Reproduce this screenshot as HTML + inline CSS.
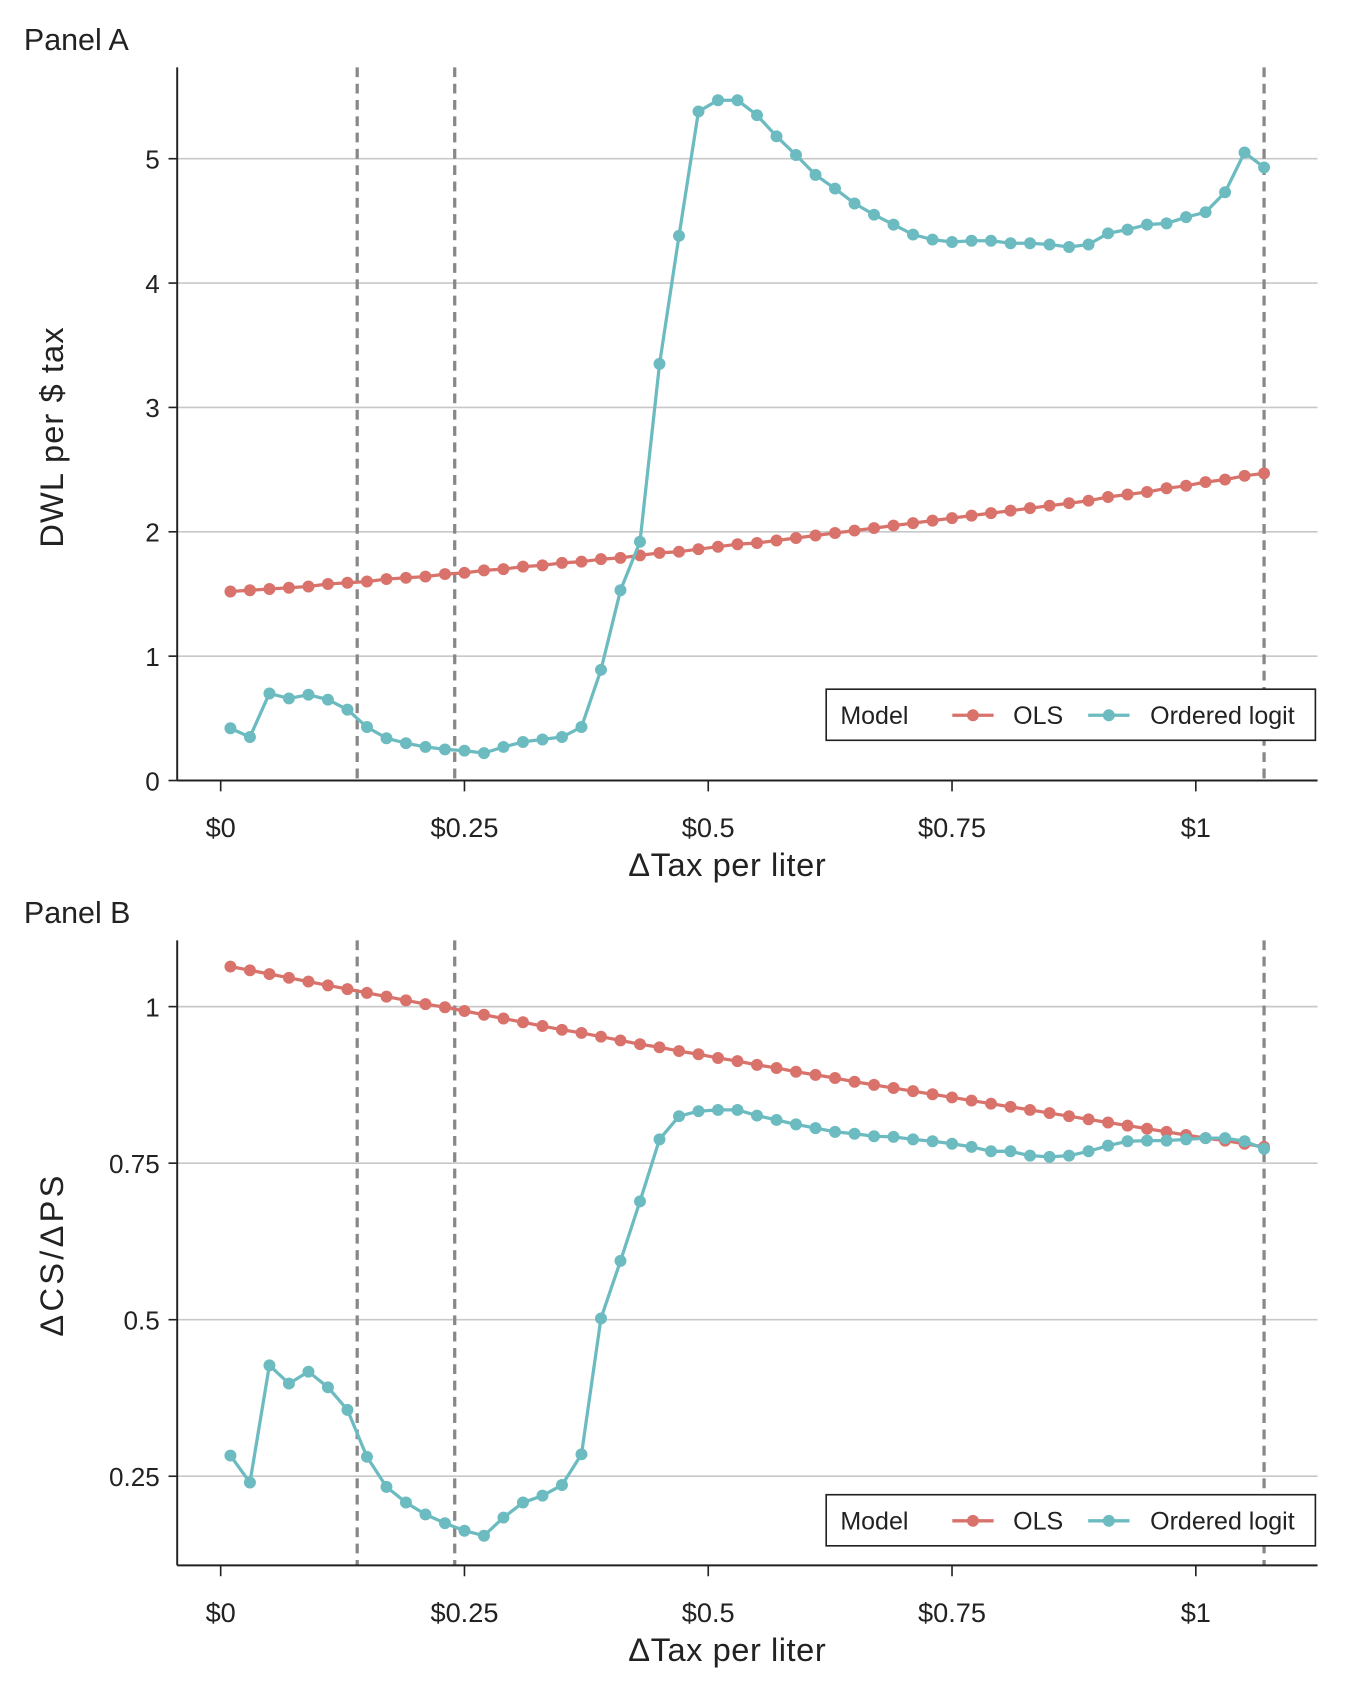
<!DOCTYPE html>
<html><head><meta charset="utf-8"><style>
html,body{margin:0;padding:0;background:#fff}
svg{display:block;font-family:"Liberation Sans",sans-serif}
</style></head><body>
<svg id="fig" width="1348" height="1698" viewBox="0 0 1240 1562" preserveAspectRatio="none" xmlns="http://www.w3.org/2000/svg"></svg>
<script>
const xVals = [];
for (let i = 0; i < 54; i++) xVals.push(+(0.01 + 0.02 * i).toFixed(2));
const vLines = [0.14, 0.24, 1.07];
const xTickVals = [0, 0.25, 0.5, 0.75, 1];
const xTickLabels = ["$0", "$0.25", "$0.5", "$0.75", "$1"];
const olsA = [1.52,1.53,1.54,1.55,1.56,1.58,1.59,1.60,1.62,1.63,1.64,1.66,1.67,1.69,1.70,1.72,1.73,1.75,1.76,1.78,1.79,1.81,1.83,1.84,1.86,1.88,1.90,1.91,1.93,1.95,1.97,1.99,2.01,2.03,2.05,2.07,2.09,2.11,2.13,2.15,2.17,2.19,2.21,2.23,2.25,2.28,2.30,2.32,2.35,2.37,2.40,2.42,2.45,2.47];
const logitA = [0.42,0.35,0.70,0.66,0.69,0.65,0.57,0.43,0.34,0.30,0.27,0.25,0.24,0.22,0.27,0.31,0.33,0.35,0.43,0.89,1.53,1.92,3.35,4.38,5.38,5.47,5.47,5.35,5.18,5.03,4.87,4.76,4.64,4.55,4.47,4.39,4.35,4.33,4.34,4.34,4.32,4.32,4.31,4.29,4.31,4.40,4.43,4.47,4.48,4.53,4.57,4.73,5.05,4.93];
const yTicksA = [0,1,2,3,4,5];
const yTickLabelsA = ["0","1","2","3","4","5"];
const olsB = [1.064,1.058,1.052,1.046,1.040,1.034,1.028,1.022,1.016,1.010,1.004,0.999,0.993,0.987,0.981,0.975,0.969,0.963,0.958,0.952,0.946,0.940,0.935,0.929,0.924,0.918,0.913,0.907,0.902,0.896,0.891,0.886,0.880,0.875,0.870,0.865,0.860,0.855,0.850,0.845,0.840,0.835,0.830,0.825,0.820,0.815,0.810,0.805,0.800,0.795,0.790,0.786,0.781,0.776];
const logitB = [0.283,0.240,0.427,0.398,0.417,0.392,0.356,0.281,0.233,0.208,0.189,0.175,0.163,0.155,0.184,0.208,0.219,0.236,0.285,0.502,0.594,0.689,0.788,0.825,0.833,0.835,0.835,0.826,0.819,0.812,0.806,0.800,0.797,0.793,0.792,0.788,0.785,0.781,0.776,0.769,0.769,0.762,0.760,0.762,0.769,0.778,0.785,0.786,0.786,0.788,0.790,0.790,0.785,0.773];
const yTicksB = [0.25,0.5,0.75,1];
const yTickLabelsB = ["0.25","0.5","0.75","1"];

const NS = "http://www.w3.org/2000/svg";
const svg = document.getElementById("fig");
function mk(tag, attrs, parent, text) {
  const e = document.createElementNS(NS, tag);
  for (const k in attrs) e.setAttribute(k, attrs[k]);
  if (text !== undefined) e.textContent = text;
  (parent || svg).appendChild(e);
  return e;
}
const OLS = "#d9726b", LOG = "#6bbbc0";
const L = 163, R = 1212;
const xs = v => 203 + (1100 - 203) * v;

function panel(p) {
  const g = mk("g", {});
  
  
  const ys = v => p.y0px + (v - p.y0) * p.k;
  const t = mk("text", {x: 22, y: p.top - 16, "font-size": 28, fill: "#222"}, g, p.title);
  
  
  p.yTicks.forEach((v, i) => {
    const gl = mk("line", {x1: L, x2: R, y1: ys(v), y2: ys(v), stroke: "#c8c8c8", "stroke-width": 1.5}, g);
    
    
    mk("line", {x1: L - 8, x2: L, y1: ys(v), y2: ys(v), stroke: "#222", "stroke-width": 1.5}, g);
    const tl = mk("text", {x: L - 16, y: ys(v) + 9, "font-size": 24, "text-anchor": "end", fill: "#222"}, g, p.yLabels[i]);
    
    
  });
  vLines.forEach(v => {
    const vl = mk("line", {x1: xs(v), x2: xs(v), y1: p.top, y2: p.bottom, stroke: "#888", "stroke-width": 3, "stroke-dasharray": "9,6"}, g);
    
    
  });
  mk("line", {x1: L, x2: L, y1: p.top, y2: p.bottom, stroke: "#222", "stroke-width": 1.8}, g);
  mk("line", {x1: L, x2: R, y1: p.bottom, y2: p.bottom, stroke: "#222", "stroke-width": 1.8}, g);
  xTickVals.forEach((v, i) => {
    mk("line", {x1: xs(v), x2: xs(v), y1: p.bottom, y2: p.bottom + 10, stroke: "#222", "stroke-width": 1.5}, g);
    const tl = mk("text", {x: xs(v), y: p.bottom + 52, "font-size": 25, "text-anchor": "middle", fill: "#222"}, g, xTickLabels[i]);
    
    
  });
  const xt = mk("text", {x: 669, y: p.bottom + 88, "font-size": 30, "letter-spacing": 0.5, "text-anchor": "middle", fill: "#222"}, g, "ΔTax per liter");
  
  
  const yt = mk("text", {transform: `translate(58,${p.yTitleY}) rotate(-90)`, "font-size": 30, "letter-spacing": p.ls, "text-anchor": "middle", fill: "#222"}, g, p.yTitle);
  
  
  [[p.ols, OLS, "ols"], [p.logit, LOG, "ordered-logit"]].forEach(([arr, col, nm]) => {
    const pts = arr.map((v, i) => xs(xVals[i]).toFixed(1) + "," + ys(v).toFixed(1)).join(" ");
    const pl = mk("polyline", {points: pts, fill: "none", stroke: col, "stroke-width": 3, "stroke-linejoin": "round"}, g);
    
    
    arr.forEach((v, i) => {
      const c = mk("circle", {cx: xs(xVals[i]), cy: ys(v), r: 5.5, fill: col}, g);
      
      
    });
  });
  const lg = mk("g", {}, g);
  
  
  const ly = p.legY;
  mk("rect", {x: 760, y: ly, width: 450, height: 47, fill: "#fff", stroke: "#222", "stroke-width": 1.5}, lg);
  mk("text", {x: 773, y: ly + 32, "font-size": 23, fill: "#222"}, lg, "Model");
  mk("line", {x1: 876, x2: 914, y1: ly + 24, y2: ly + 24, stroke: OLS, "stroke-width": 3}, lg);
  mk("circle", {cx: 895, cy: ly + 24, r: 5.5, fill: OLS}, lg);
  const e1 = mk("text", {x: 932, y: ly + 32, "font-size": 23, fill: "#222"}, lg, "OLS");
  
  
  mk("line", {x1: 1001, x2: 1039, y1: ly + 24, y2: ly + 24, stroke: LOG, "stroke-width": 3}, lg);
  mk("circle", {cx: 1020, cy: ly + 24, r: 5.5, fill: LOG}, lg);
  const e2 = mk("text", {x: 1058, y: ly + 32, "font-size": 23, fill: "#222"}, lg, "Ordered logit");
  
  
}

panel({name: "panel-a", title: "Panel A", top: 62, bottom: 718, y0: 0, y0px: 718, k: -114.4,
  yTicks: yTicksA, yLabels: yTickLabelsA, ols: olsA, logit: logitA, yTitle: "DWL per $ tax", yTitleY: 402, legY: 634, ls: 1});
panel({name: "panel-b", title: "Panel B", top: 865, bottom: 1440, y0: 1, y0px: 926, k: -576,
  yTicks: yTicksB, yLabels: yTickLabelsB, ols: olsB, logit: logitB, yTitle: "ΔCS/ΔPS", yTitleY: 1154, legY: 1375, ls: 3});
</script>
</body></html>
